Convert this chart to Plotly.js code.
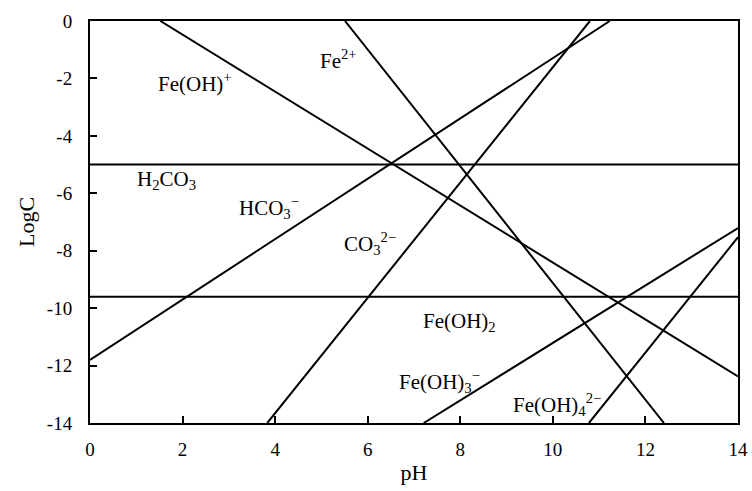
<!DOCTYPE html>
<html>
<head>
<meta charset="utf-8">
<script src="https://cdn.plot.ly/plotly-3.0.1.min.js"></script>
<style>html,body{margin:0;padding:0;background:#fff;}#chart{width:752px;height:491px;}</style>
</head>
<body>
<div id="chart"></div>
<script>
// Line end points (pH, logC)
const totalCarbonX = [0, 14];
const totalCarbonY = [-5, -5];
const feOH2X = [0, 14];
const feOH2Y = [-9.6, -9.6];
const hco3X = [0, 11.23];
const hco3Y = [-11.8, 0];
const co3X = [3.83, 10.8];
const co3Y = [-14, 0];
const feOHpX = [1.52, 14];
const feOHpY = [0, -12.38];
const fe2pX = [5.51, 12.40];
const fe2pY = [0, -14];
const feOH3mX = [7.21, 14];
const feOH3mY = [-14, -7.21];
const feOH4X = [10.78, 14];
const feOH4Y = [-14, -7.53];

// Species labels
const labelText = ["Fe(OH)<sup>+</sup>", "Fe<sup>2+</sup>", "H<sub>2</sub>CO<sub>3</sub>", "HCO<sub>3</sub><sup>−</sup>",
  "CO<sub>3</sub><sup>2−</sup>", "Fe(OH)<sub>2</sub>", "Fe(OH)<sub>3</sub><sup>−</sup>", "Fe(OH)<sub>4</sub><sup>2−</sup>"];
const labelX = [2.27, 5.36, 1.66, 3.87, 6.04, 7.98, 7.55, 10.08];
const labelY = [-2.15, -1.35, -5.55, -6.49, -7.74, -10.47, -12.56, -13.37];

const xTicks = [0, 2, 4, 6, 8, 10, 12, 14];
const yTicks = [0, -2, -4, -6, -8, -10, -12, -14];
const yTickText = ["0", "-2", "-4", "-6", "-8", "-10", "-12", "-14"];

const FONT = "Liberation Serif, Times New Roman, serif";
const lineStyle = {color: "#000", width: 2};
const series = [
  [totalCarbonX, totalCarbonY], [feOH2X, feOH2Y], [hco3X, hco3Y], [co3X, co3Y],
  [feOHpX, feOHpY], [fe2pX, fe2pY], [feOH3mX, feOH3mY], [feOH4X, feOH4Y]
];
const traces = series.map(s => ({
  x: s[0], y: s[1], mode: "lines", type: "scatter", line: lineStyle,
  showlegend: false, hoverinfo: "skip", cliponaxis: true
}));

const annotations = labelText.map((t, i) => ({
  x: labelX[i], y: labelY[i], xref: "x", yref: "y", text: t, showarrow: false,
  font: {family: FONT, size: 21, color: "#000"}, xanchor: "center", yanchor: "middle"
}));

const layout = {
  width: 752, height: 491,
  margin: {l: 90, r: 14, t: 21, b: 68},
  paper_bgcolor: "#fff", plot_bgcolor: "#fff",
  font: {family: FONT, size: 19, color: "#000"},
  xaxis: {
    range: [0, 14], tickvals: xTicks, ticks: "inside", ticklen: 7, tickwidth: 2, tickcolor: "#000",
    showline: true, linecolor: "#000", linewidth: 2, mirror: true, showgrid: false, zeroline: false,
    tickfont: {family: FONT, size: 19, color: "#000"}, ticklabelstandoff: 8,
    title: {text: "pH", font: {family: FONT, size: 22, color: "#000"}, standoff: 6}, automargin: false
  },
  yaxis: {
    range: [-14, 0], tickvals: yTicks, ticktext: yTickText, ticks: "inside", ticklen: 7, tickwidth: 2, tickcolor: "#000",
    showline: true, linecolor: "#000", linewidth: 2, mirror: true, showgrid: false, zeroline: false,
    tickfont: {family: FONT, size: 19, color: "#000"}, ticklabelstandoff: 12,
    title: {text: "LogC", font: {family: FONT, size: 22, color: "#000"}, standoff: 6}, automargin: false
  },
  annotations: annotations
};

Plotly.newPlot("chart", traces, layout, {displayModeBar: false, staticPlot: true});
</script>
</body>
</html>
